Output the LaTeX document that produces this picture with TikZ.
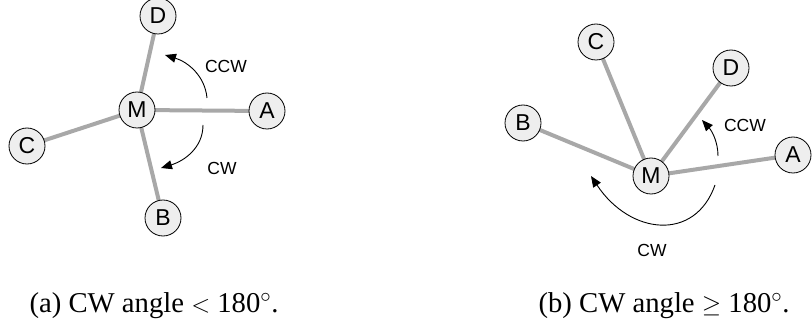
\documentclass[tikz,border=0pt]{standalone}
\usepackage{fontspec}
\setmainfont{Liberation Serif}
\setsansfont{Liberation Sans}
\usetikzlibrary{arrows.meta,backgrounds}
\definecolor{edgegray}{RGB}{168,168,168}
\definecolor{nodefill}{RGB}{238,238,238}
\tikzset{
  vtx/.style={circle,draw=black,line width=0.8pt,fill=nodefill,minimum size=36pt,inner sep=0pt,
    font=\sffamily\fontsize{23}{25}\selectfont},
  spoke/.style={draw=edgegray,line width=4pt},
  turn/.style={draw=black,line width=0.9pt,-{Triangle[length=11pt,width=9pt]}},
  dirlabel/.style={anchor=base,inner sep=0pt,font=\sffamily\fontsize{17.5}{20}\selectfont},
  caption/.style={anchor=base,inner sep=0pt,font=\rmfamily\fontsize{28.7}{31}\selectfont}
}
\begin{document}
\begin{tikzpicture}[x=1pt,y=-1pt]
\useasboundingbox (0,0) rectangle (812,326);
% ---------- (a) ----------
\node[vtx] (aM) at (137,110) {M};
\node[vtx] (aA) at (267,111) {A};
\node[vtx] (aD) at (158,16) {D};
\node[vtx] (aC) at (27,146) {C};
\node[vtx] (aB) at (163,218) {B};
\begin{scope}[on background layer]
\path[spoke] (aM.center) -- (aA.center);
\path[spoke] (aM.center) -- (aD.center);
\path[spoke] (aM.center) -- (aC.center);
\path[spoke] (aM.center) -- (aB.center);
\end{scope}
\coordinate (accwS) at (207,98);
\coordinate (accwE) at (165,55);
\coordinate (acwS) at (203,125);
\coordinate (acwE) at (161,168);
\draw[turn] (accwS) .. controls (205,76) and (188,62) .. (accwE);
\draw[turn] (acwS) .. controls (203,148) and (184,161) .. (acwE);
\node[dirlabel] (accwL) at (226,73) {CCW};
\node[dirlabel] (acwL) at (222,175) {CW};
\node[caption] (capa) at (154,312) {(a) CW angle $<$ 180$^{\circ}$.};
% ---------- (b) ----------
\node[vtx] (bM) at (651,176) {M};
\node[vtx] (bA) at (793,155) {A};
\node[vtx] (bD) at (731,68) {D};
\node[vtx] (bC) at (596,42) {C};
\node[vtx] (bB) at (523,123) {B};
\begin{scope}[on background layer]
\path[spoke] (bM.center) -- (bA.center);
\path[spoke] (bM.center) -- (bD.center);
\path[spoke] (bM.center) -- (bC.center);
\path[spoke] (bM.center) -- (bB.center);
\end{scope}
\coordinate (bccwS) at (718,156);
\coordinate (bccwE) at (702,120);
\coordinate (bcwS) at (715,185);
\coordinate (bcwE) at (591,176);
\draw[turn] (bccwS) .. controls (718,142) and (712,131) .. (bccwE);
\draw[turn] (bcwS) .. controls (695,242) and (630,235) .. (bcwE);
\node[dirlabel] (bccwL) at (745,132) {CCW};
\node[dirlabel] (bcwL) at (652,256) {CW};
\node[caption] (capb) at (664,312) {(b) CW angle $\geq$ 180$^{\circ}$.};
\end{tikzpicture}
\end{document}
